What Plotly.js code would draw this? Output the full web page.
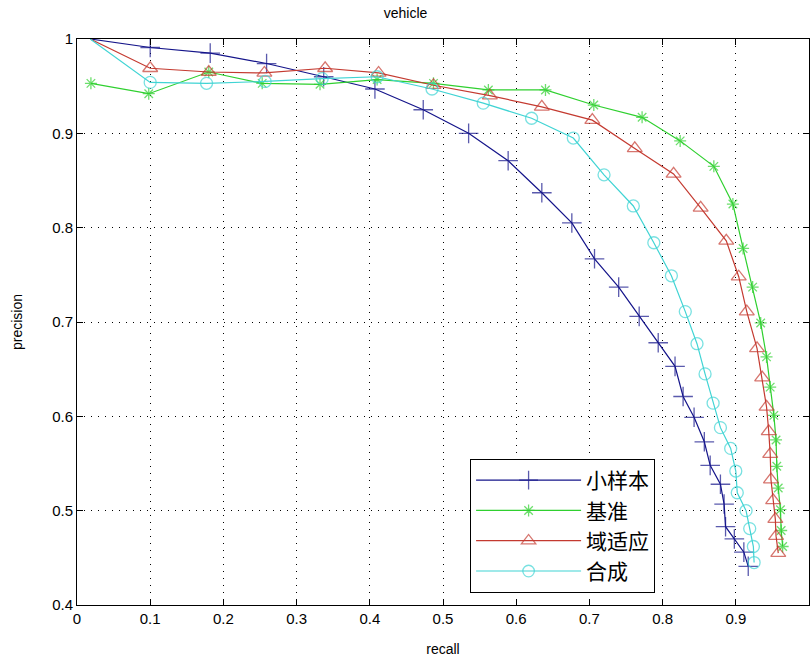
<!DOCTYPE html>
<html><head><meta charset="utf-8">
<script src="https://cdn.plot.ly/plotly-3.0.1.min.js"></script>
<style>html,body{margin:0;padding:0;background:#fff}#chart{width:811px;height:663px}</style>
</head><body><div id="chart"></div>
<script>
const names = ['小样本','基准','域适应','合成'];
const blueX = [0.018,0.1,0.182,0.259,0.337,0.407,0.473,0.535,0.589,0.635,0.676,0.707,0.740,0.768,0.794,0.817,0.828,0.843,0.857,0.865,0.879,0.884,0.886,0.898,0.911,0.917];
const blueY = [1.0,0.991,0.985,0.974,0.960,0.947,0.925,0.900,0.871,0.837,0.805,0.767,0.737,0.706,0.678,0.653,0.621,0.599,0.573,0.548,0.528,0.507,0.483,0.470,0.456,0.441];
const greenX = [0.019,0.098,0.18,0.253,0.332,0.41,0.487,0.562,0.640,0.706,0.772,0.824,0.870,0.896,0.910,0.923,0.934,0.942,0.947,0.952,0.955,0.956,0.958,0.961,0.962,0.964];
const greenY = [0.953,0.942,0.965,0.953,0.952,0.957,0.953,0.946,0.946,0.930,0.917,0.892,0.865,0.825,0.778,0.737,0.699,0.663,0.631,0.601,0.575,0.547,0.524,0.501,0.479,0.462];
const redX = [0.018,0.1,0.18,0.256,0.339,0.412,0.487,0.564,0.635,0.704,0.762,0.815,0.852,0.887,0.904,0.915,0.929,0.936,0.942,0.945,0.947,0.948,0.951,0.954,0.955,0.958];
const redY = [1.0,0.969,0.965,0.964,0.969,0.964,0.951,0.940,0.928,0.914,0.884,0.857,0.821,0.786,0.748,0.711,0.672,0.641,0.610,0.584,0.560,0.533,0.511,0.491,0.473,0.455];
const cyanX = [0.018,0.1,0.177,0.257,0.335,0.41,0.485,0.555,0.621,0.678,0.720,0.760,0.788,0.812,0.831,0.847,0.858,0.869,0.879,0.893,0.900,0.902,0.914,0.919,0.924,0.925];
const cyanY = [1.0,0.954,0.953,0.955,0.958,0.960,0.947,0.932,0.916,0.895,0.856,0.823,0.784,0.749,0.711,0.677,0.645,0.614,0.588,0.566,0.542,0.519,0.500,0.481,0.462,0.445];

const colors = ['#14148a','#2fd02f','#c43a30','#40d4d4'];
const symbols = ['cross-thin-open','asterisk-open','triangle-up-open','circle-open'];
const sizes = [14,10,13,12];
const hideFirst = [true,false,true,true];
const xs = [blueX, greenX, redX, cyanX];
const ys = [blueY, greenY, redY, cyanY];

const traces = names.map((n,i)=>({
  type:'scatter', mode:'lines+markers', name:n, x:xs[i], y:ys[i],
  line:{color:colors[i], width:1.2},
  marker:{symbol:symbols[i], size:xs[i].map((_,k)=> (hideFirst[i] && k===0) ? 0 : sizes[i]),
    color:colors[i], line:{color:colors[i], width:1.3}}
}));

const tickFont = {family:'Liberation Sans, Arial, sans-serif', size:15, color:'#000'};
const labFont = {family:'Liberation Sans, Arial, sans-serif', size:14, color:'#000'};
const axisCommon = {showgrid:true, gridcolor:'#000', griddash:'1px,6px', gridwidth:1,
    showline:true, linecolor:'#000', linewidth:1, mirror:'ticks', ticks:'inside', ticklen:6, tickcolor:'#000',
    zeroline:false, tickfont:tickFont};
const layout = {
  width:811, height:663,
  margin:{l:77, r:2, t:39, b:58},
  paper_bgcolor:'#fff', plot_bgcolor:'#fff',
  title:{text:'vehicle', font:labFont, x:0.5, xanchor:'center', y:0.988, yanchor:'top'},
  xaxis:Object.assign({range:[0,1], dtick:0.1, tick0:0,
    title:{text:'recall', font:labFont, standoff:18}}, axisCommon),
  yaxis:Object.assign({range:[0.4,1], dtick:0.1, tick0:0.4,
    title:{text:'precision', font:labFont, standoff:26}}, axisCommon),
  legend:{x:0.537, y:0.258, xanchor:'left', yanchor:'top', bgcolor:'#fff', bordercolor:'#000', borderwidth:1,
    font:{family:'Noto Sans CJK SC, sans-serif', size:21, color:'#000'}, tracegroupgap:0, itemwidth:105},
  showlegend:true
};
Plotly.newPlot('chart', traces, layout, {displayModeBar:false, staticPlot:true});
</script></body></html>
